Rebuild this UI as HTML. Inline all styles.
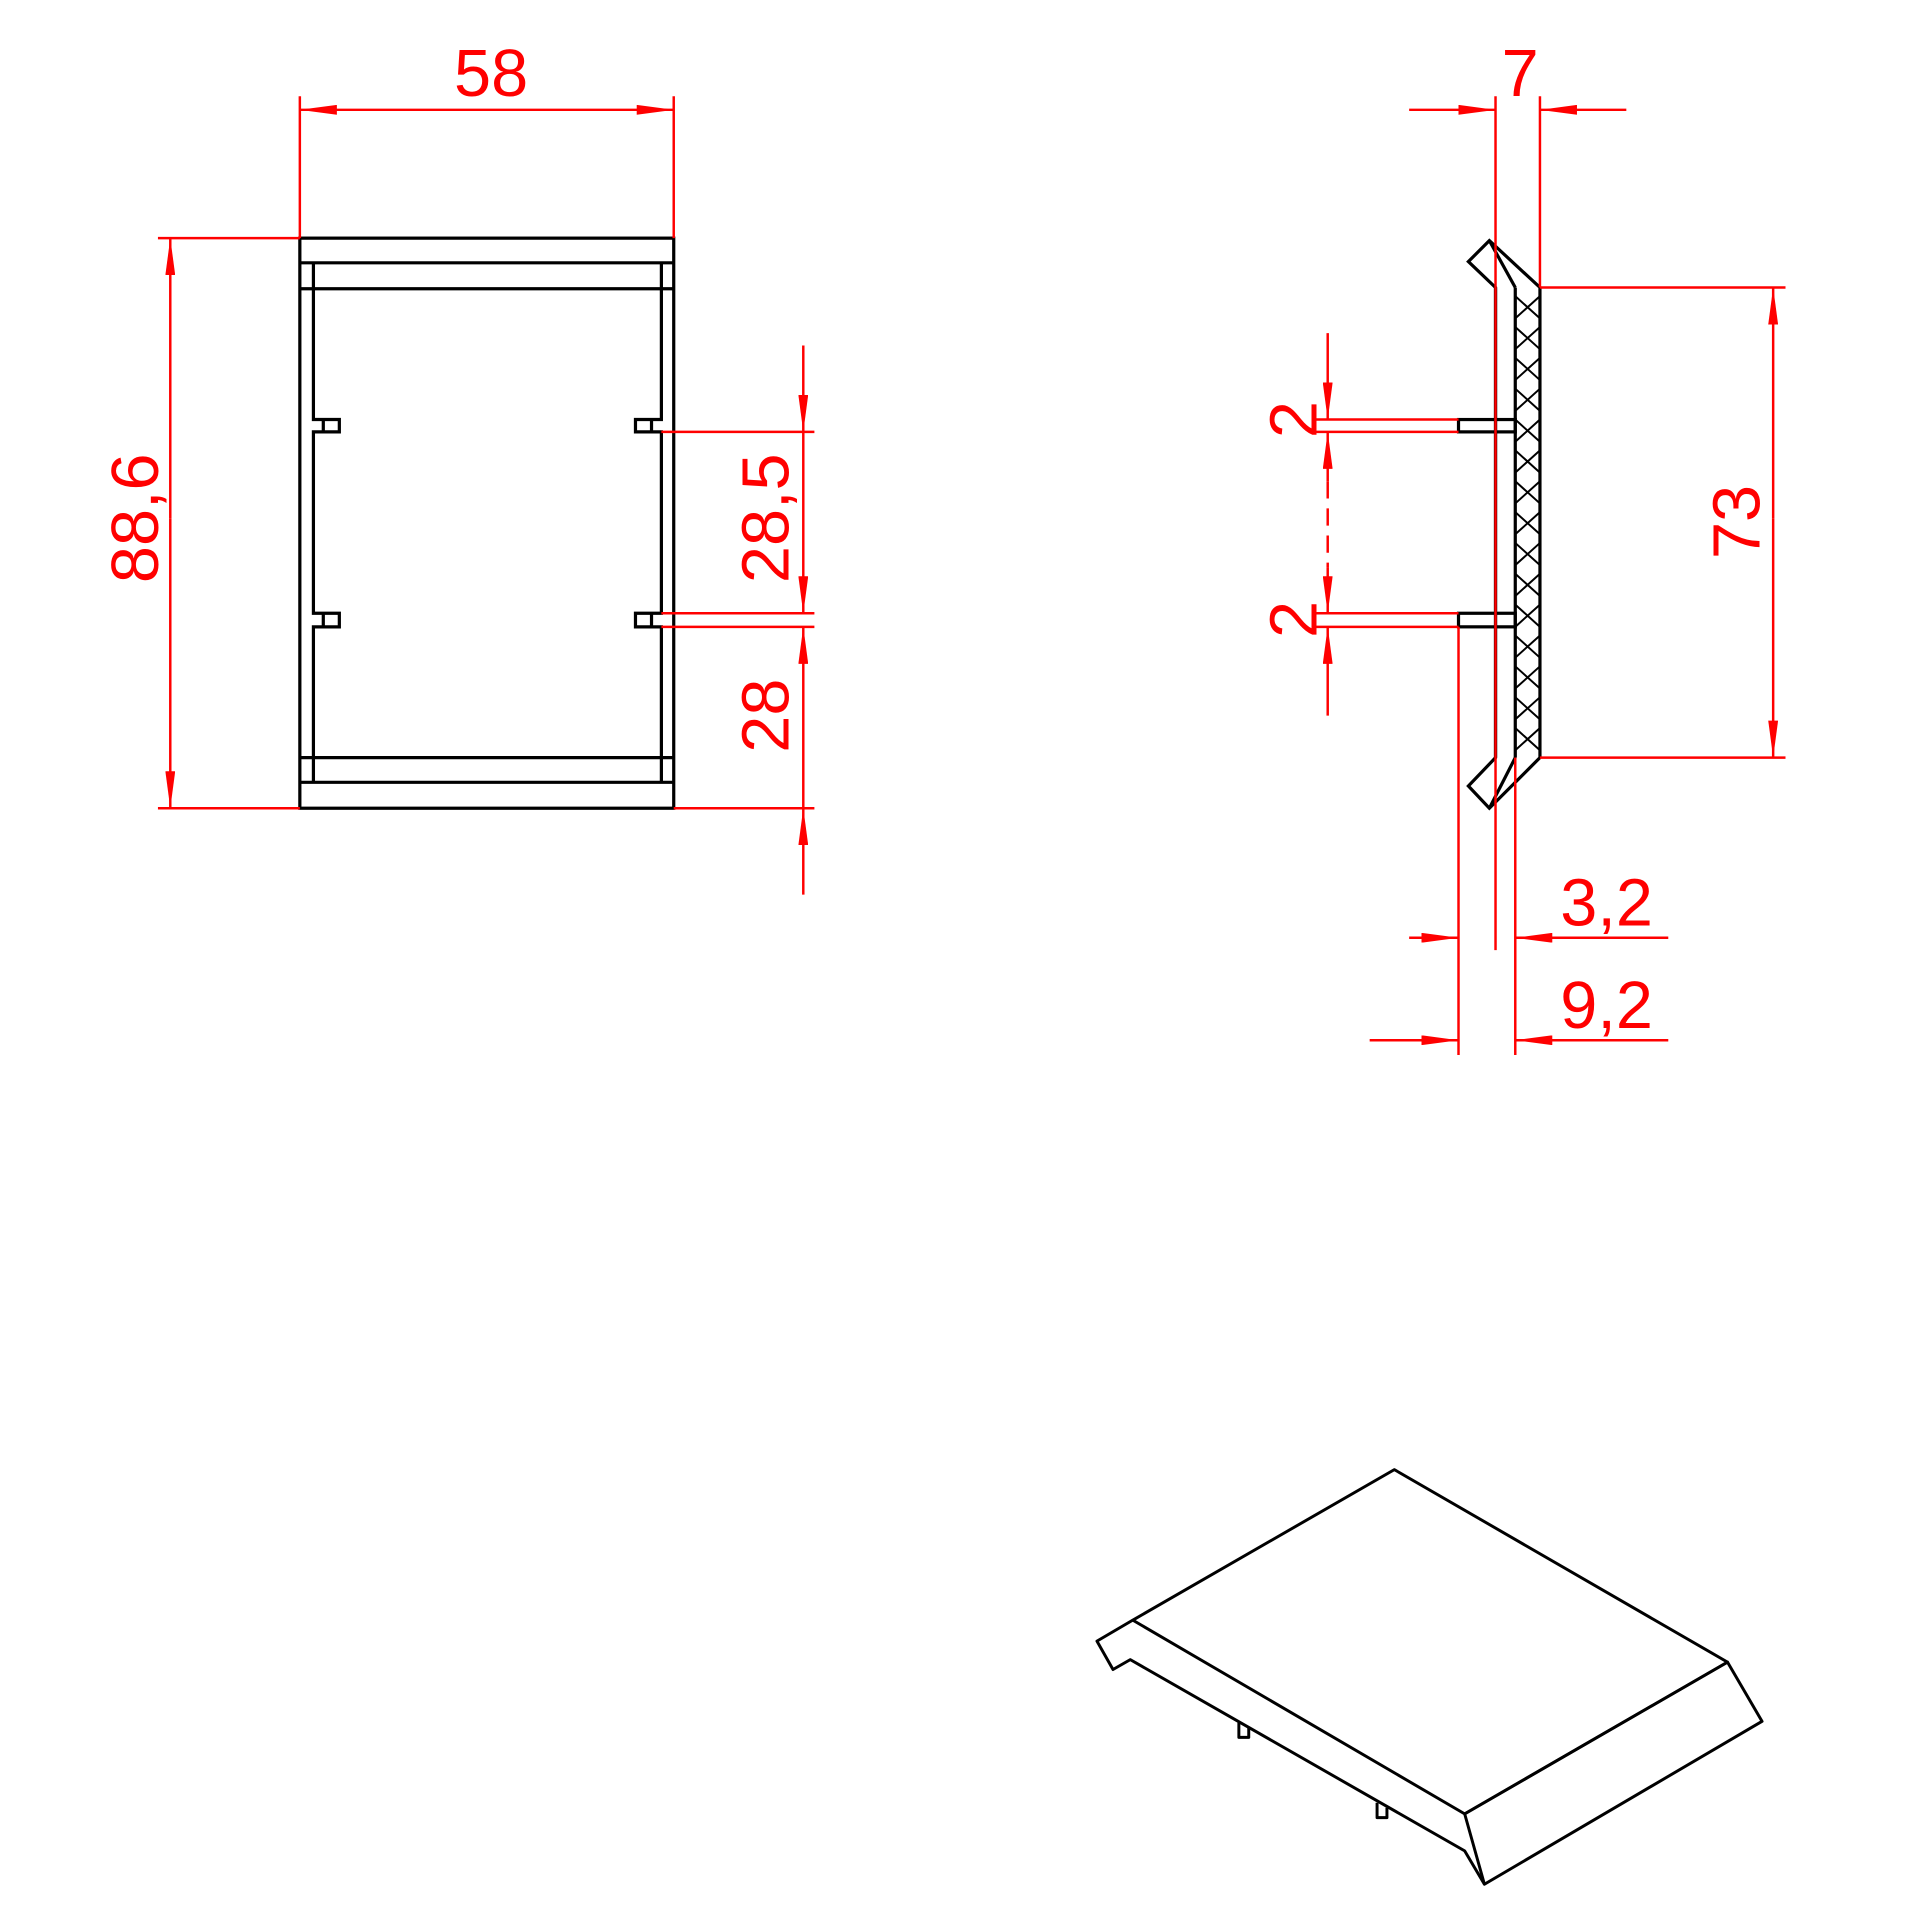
<!DOCTYPE html>
<html><head><style>html,body{margin:0;padding:0;background:#fff}svg{display:block}</style></head>
<body>
<svg width="1920" height="1920" viewBox="0 0 1556 1556" xmlns="http://www.w3.org/2000/svg">
<defs>
<marker id="a" viewBox="0 0 30 8" refX="30" refY="4" markerWidth="30" markerHeight="8" markerUnits="userSpaceOnUse" orient="auto"><path d="M0,0 L30,4 L0,8 Z" fill="#f00"/></marker>
</defs>
<g fill="none" stroke="#000" stroke-width="2.6">
<rect x="243" y="193" width="303" height="462"/>
<line x1="243" y1="213" x2="546" y2="213"/>
<line x1="243" y1="234" x2="546" y2="234"/>
<line x1="243" y1="614" x2="546" y2="614"/>
<line x1="243" y1="634" x2="546" y2="634"/>
<path d="M254,213 V340 H275 V350 H254 V497 H275 V508 H254 V634"/>
<path d="M536,213 V340 H515 V350 H536 V497 H515 V508 H536 V634"/>
<line x1="262" y1="340" x2="262" y2="350"/><line x1="262" y1="497" x2="262" y2="508"/>
<line x1="528" y1="340" x2="528" y2="350"/><line x1="528" y1="497" x2="528" y2="508"/>
<path d="M1212,233 L1190,212 L1207,195 L1248,233 V614 L1207,655 L1190,637 L1212,614 Z"/>
<line x1="1212" y1="233" x2="1212" y2="614"/>
<line x1="1228" y1="233" x2="1228" y2="614"/>
<line x1="1207" y1="195" x2="1228" y2="233"/>
<line x1="1207" y1="655" x2="1228" y2="614"/>
<rect x="1182" y="340" width="46" height="10"/>
<rect x="1182" y="497" width="46" height="11"/>
</g>
<g stroke="#000" stroke-width="1.6" fill="none">
<path d="M1228,240 L1248,258 M1228,258 L1248,240 M1228,265 L1248,283 M1228,283 L1248,265 M1228,290 L1248,308 M1228,308 L1248,290 M1228,315 L1248,333 M1228,333 L1248,315 M1228,340 L1248,358 M1228,358 L1248,340 M1228,365 L1248,383 M1228,383 L1248,365 M1228,390 L1248,408 M1228,408 L1248,390 M1228,415 L1248,433 M1228,433 L1248,415 M1228,440 L1248,458 M1228,458 L1248,440 M1228,465 L1248,483 M1228,483 L1248,465 M1228,490 L1248,508 M1228,508 L1248,490 M1228,515 L1248,533 M1228,533 L1248,515 M1228,540 L1248,558 M1228,558 L1248,540 M1228,565 L1248,583 M1228,583 L1248,565 M1228,590 L1248,608 M1228,608 L1248,590"/>
</g>
<g fill="none" stroke="#000" stroke-width="2.4" stroke-linejoin="round">
<path d="M918,1313 L1130,1191 L1400,1347 L1187,1470 Z"/>
<path d="M1187,1470 L1400,1347 L1428,1395 L1203,1527 Z"/>
<path d="M918,1313 L889,1330 L902,1353 L916,1345 L1187,1500 L1203,1527"/>
<path d="M1004,1396 V1408 H1012 V1400 M1116,1461 V1473 H1124 V1465"/>
</g>
<g stroke="#f00" stroke-width="2" fill="none">
<line x1="243" y1="78" x2="243" y2="193"/><line x1="546" y1="78" x2="546" y2="193"/>
<line x1="270" y1="89" x2="546" y2="89" marker-end="url(#a)"/>
<line x1="270" y1="89" x2="243" y2="89" marker-end="url(#a)"/>
<line x1="128" y1="193" x2="243" y2="193"/><line x1="128" y1="655" x2="243" y2="655"/>
<line x1="138" y1="420" x2="138" y2="193" marker-end="url(#a)"/>
<line x1="138" y1="420" x2="138" y2="655" marker-end="url(#a)"/>
<line x1="536" y1="350" x2="660" y2="350"/><line x1="536" y1="497" x2="660" y2="497"/>
<line x1="536" y1="508" x2="660" y2="508"/><line x1="546" y1="655" x2="660" y2="655"/>
<line x1="651" y1="280" x2="651" y2="350" marker-end="url(#a)"/>
<line x1="651" y1="350" x2="651" y2="497" marker-end="url(#a)"/>
<line x1="651" y1="655" x2="651" y2="508" marker-end="url(#a)"/>
<line x1="651" y1="725" x2="651" y2="655" marker-end="url(#a)"/>
<line x1="1212" y1="78" x2="1212" y2="770"/><line x1="1248" y1="78" x2="1248" y2="233"/>
<line x1="1142" y1="89" x2="1212" y2="89" marker-end="url(#a)"/>
<line x1="1318" y1="89" x2="1248" y2="89" marker-end="url(#a)"/>
<line x1="1248" y1="233" x2="1447" y2="233"/><line x1="1248" y1="614" x2="1447" y2="614"/>
<line x1="1437" y1="420" x2="1437" y2="233" marker-end="url(#a)"/>
<line x1="1437" y1="420" x2="1437" y2="614" marker-end="url(#a)"/>
<line x1="1066" y1="340" x2="1182" y2="340"/><line x1="1066" y1="350" x2="1182" y2="350"/>
<line x1="1066" y1="497" x2="1182" y2="497"/><line x1="1066" y1="508" x2="1182" y2="508"/>
<line x1="1076" y1="270" x2="1076" y2="340" marker-end="url(#a)"/>
<line x1="1076" y1="390" x2="1076" y2="350" marker-end="url(#a)"/>
<line x1="1076" y1="390" x2="1076" y2="460" stroke-dasharray="14,8"/>
<line x1="1076" y1="460" x2="1076" y2="497" marker-end="url(#a)"/>
<line x1="1076" y1="580" x2="1076" y2="508" marker-end="url(#a)"/>
<line x1="1182" y1="508" x2="1182" y2="855"/><line x1="1228" y1="614" x2="1228" y2="855"/>
<line x1="1142" y1="760" x2="1182" y2="760" marker-end="url(#a)"/>
<line x1="1352" y1="760" x2="1228" y2="760" marker-end="url(#a)"/>
<line x1="1110" y1="843" x2="1182" y2="843" marker-end="url(#a)"/>
<line x1="1352" y1="843" x2="1228" y2="843" marker-end="url(#a)"/>
</g>
<g fill="#f00" font-family="Liberation Sans, sans-serif" font-size="54">
<text x="398" y="78" text-anchor="middle">58</text>
<text x="1232" y="78" text-anchor="middle">7</text>
<text x="1302" y="750" text-anchor="middle">3,2</text>
<text x="1302" y="833" text-anchor="middle">9,2</text>
<text transform="translate(128,420) rotate(-90)" text-anchor="middle">88,6</text>
<text transform="translate(639,420) rotate(-90)" text-anchor="middle">28,5</text>
<text transform="translate(639,580) rotate(-90)" text-anchor="middle">28</text>
<text transform="translate(1426,423) rotate(-90)" text-anchor="middle">73</text>
<text transform="translate(1067,340) rotate(-90)" text-anchor="middle">2</text>
<text transform="translate(1067,502) rotate(-90)" text-anchor="middle">2</text>
</g>
</svg>
</body></html>
